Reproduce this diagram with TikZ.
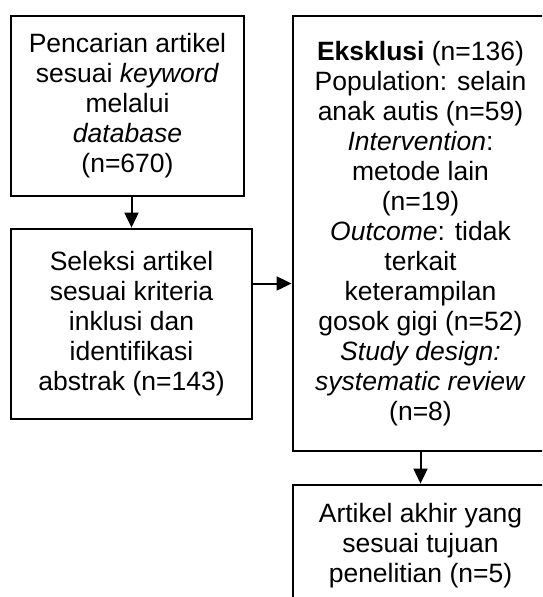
\documentclass[tikz,border=0pt]{standalone}
\usepackage{fontspec}
\setmainfont{Liberation Sans}
\usetikzlibrary{calc,arrows.meta}

\begin{document}
\begin{tikzpicture}[x=1pt,y=-1pt,
  flowbox/.style={draw,line width=2.8pt,align=center,inner sep=0pt,
    font=\fontsize{26.5}{30}\selectfont},
  flowarrow/.style={line width=2pt,-{Triangle[length=15pt,width=14pt]}}]

% ---- page frame (boxes on the right run past the edge) ----
\useasboundingbox (0,0) rectangle (542,597);
\clip (0,0) rectangle (542,597);

% ---- left column: search and screening ----
\node[flowbox,minimum width=233pt,minimum height=180pt] (search) at (127.5,106)
  {Pencarian artikel\\sesuai \textit{keyword}\\melalui\\\textit{database}\\(n=670)};
\node[flowbox,minimum width=241pt,minimum height=190pt] (select) at (131.5,324)
  {Seleksi artikel\\sesuai kriteria\\inklusi dan\\identifikasi\\abstrak (n=143)};

% ---- right column: exclusions and final set ----
\node[flowbox,minimum width=255pt,minimum height=435pt] (exclude) at (420.5,233.5)
  {\textbf{Eksklusi} (n=136)\\Population: selain\\anak autis (n=59)\\
   \textit{Intervention}:\\metode lain\\(n=19)\\\textit{Outcome}: tidak\\terkait\\
   keterampilan\\gosok gigi (n=52)\\\textit{Study design:}\\\textit{systematic review}\\(n=8)};
\node[flowbox,minimum width=255pt,minimum height=122pt] (final) at (420.5,546)
  {Artikel akhir yang\\sesuai tujuan\\penelitian (n=5)};

% ---- arrows ----
\draw[flowarrow] (select.north |- search.south) -- (select.north);
\coordinate (exit) at ($(select.north east)!0.29!(select.south east)$);
\draw[flowarrow] (exit) -- (exit -| exclude.west);
\draw[flowarrow] (exclude.south) -- (final.north);

\end{tikzpicture}
\end{document}
